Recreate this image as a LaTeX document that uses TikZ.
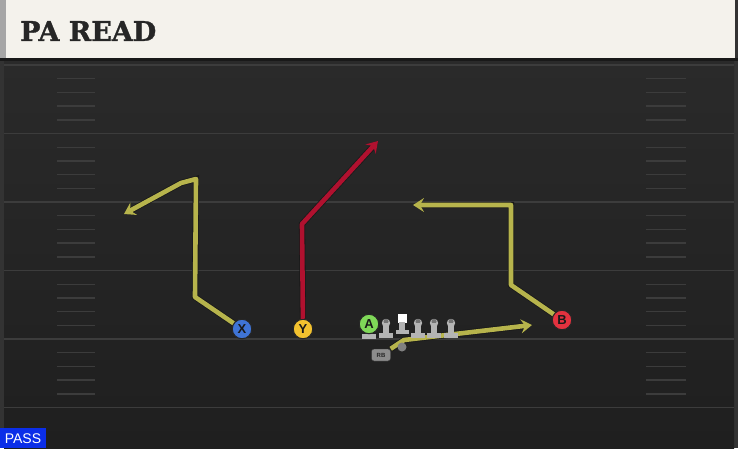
\documentclass[tikz,border=0pt]{standalone}
\usepackage{fontspec}
\setmainfont{Liberation Sans}
\newfontfamily\titlefont{DejaVu Serif}[FakeBold=1.2]
\usetikzlibrary{arrows.meta}
\definecolor{fieldtop}{HTML}{2A2A2A}
\definecolor{fieldbot}{HTML}{1F1F1F}
\definecolor{fieldedge}{HTML}{333333}
\definecolor{yardgray}{HTML}{3C3C3C}
\definecolor{headcream}{HTML}{F4F2EC}
\definecolor{routegold}{HTML}{B7B44C}
\definecolor{routered}{HTML}{B0112F}
\definecolor{xblue}{HTML}{3F74D6}
\definecolor{yyellow}{HTML}{F3C22F}
\definecolor{agreen}{HTML}{7FD858}
\definecolor{bred}{HTML}{E2323F}
\definecolor{linegray}{HTML}{B4B4B4}
\definecolor{passblue}{HTML}{0B2EE8}

\tikzset{
  player/.style={circle, draw=black!85, line width=1pt, minimum size=19.5pt,
    inner sep=0pt, font=\bfseries\fontsize{13}{13}\selectfont, text=black!90},
  route/.style={line width=4.6pt, draw=routegold, line join=round,
    -{Stealth[length=11pt,width=14pt,inset=4pt]},
    preaction={draw=black!90, line width=6.2pt}},
  hot/.style={route, draw=routered},
  yardline/.style={draw=yardgray, line width=1.8pt},
  hashmark/.style={draw=yardgray, line width=1.4pt},
}

\begin{document}
\begin{tikzpicture}[x=1pt, y=-1pt]
    \useasboundingbox (0,0) rectangle (738,448);

    % field
    \fill[fieldedge] (0,0) rectangle (738,448);
    \shade[top color=fieldtop, bottom color=fieldbot] (4,60) rectangle (734,448);
    \foreach \y in {65,133.5,202,270.5,339,407.5}
        \draw[yardline] (4,\y) -- (734,\y);
    \foreach \s in {65,133.5,202,270.5,339}
        \foreach \k in {1,...,4} {
            \draw[hashmark] (57,{\s+13.7*\k}) -- (95,{\s+13.7*\k});
            \draw[hashmark] (646,{\s+13.7*\k}) -- (686,{\s+13.7*\k});
        }

    % header
    \fill[black!35] (0,0) rectangle (6,58);
    \fill[headcream] (6,0) rectangle (735,58);
    \fill[black!90] (0,58) rectangle (738,61);
    \draw(20,31) node[anchor=west, text=black!85, inner sep=0pt]
        (title) {\titlefont\bfseries\fontsize{27}{27}\selectfont PA READ};

    % players
    \draw(242,329) node[player, fill=xblue] (X) {X};
    \draw(303,329) node[player, fill=yyellow] (Y) {Y};
    \draw(562,320) node[player, fill=bred] (B) {B};
    \draw(381,355) node[rounded corners=2.5pt, fill=black!45, draw=black!80,
        minimum width=19pt, minimum height=12pt, inner sep=0pt,
        font=\bfseries\fontsize{6}{6}\selectfont, text=black!85] (RB) {RB};

    \coordinate (xEnd) at (124,214);
    \coordinate (yEnd) at (378,141);
    \coordinate (bEnd) at (413,205);
    \coordinate (rbEnd) at (532,325);

    % routes
    \draw[route] (X) -- (195,297) -- (196,179) -- (181,183) -- (xEnd);
    \draw[hot] (Y) -- (302,224) -- (yEnd);
    \draw[route] (B) -- (511,285) -- (511,205) -- (bEnd);
    \draw[route] (RB.north east) -- (404,340) -- (rbEnd);

    % line
    \fill[black!50] (402,347) circle (4.5);
    \fill[linegray] (362,334) rectangle (376,338.5);
    \draw(369,324) node[player, fill=agreen] (A) {A};
    \foreach \lx in {386,418,434,451} {
        \fill[linegray] (\lx,323) circle (4.2);
        \fill[black!55] (\lx,321.5) circle (2.5);
        \fill[linegray] (\lx-2.6,323) rectangle (\lx+2.6,334);
        \fill[linegray] (\lx-6.8,333) rectangle (\lx+6.8,337.5);
    }
    \fill[white] (397.5,313.5) rectangle (406.5,322.5);
    \fill[linegray] (399.4,322) rectangle (404.6,330);
    \fill[linegray] (395.5,329.5) rectangle (408.5,333.5);

    % play type
    \fill[passblue] (0,428) rectangle (46,448);
    \draw(23,438.5) node[text=white, inner sep=0pt,
        font=\fontsize{14}{14}\selectfont] (pass) {PASS};

\end{tikzpicture}
\end{document}
